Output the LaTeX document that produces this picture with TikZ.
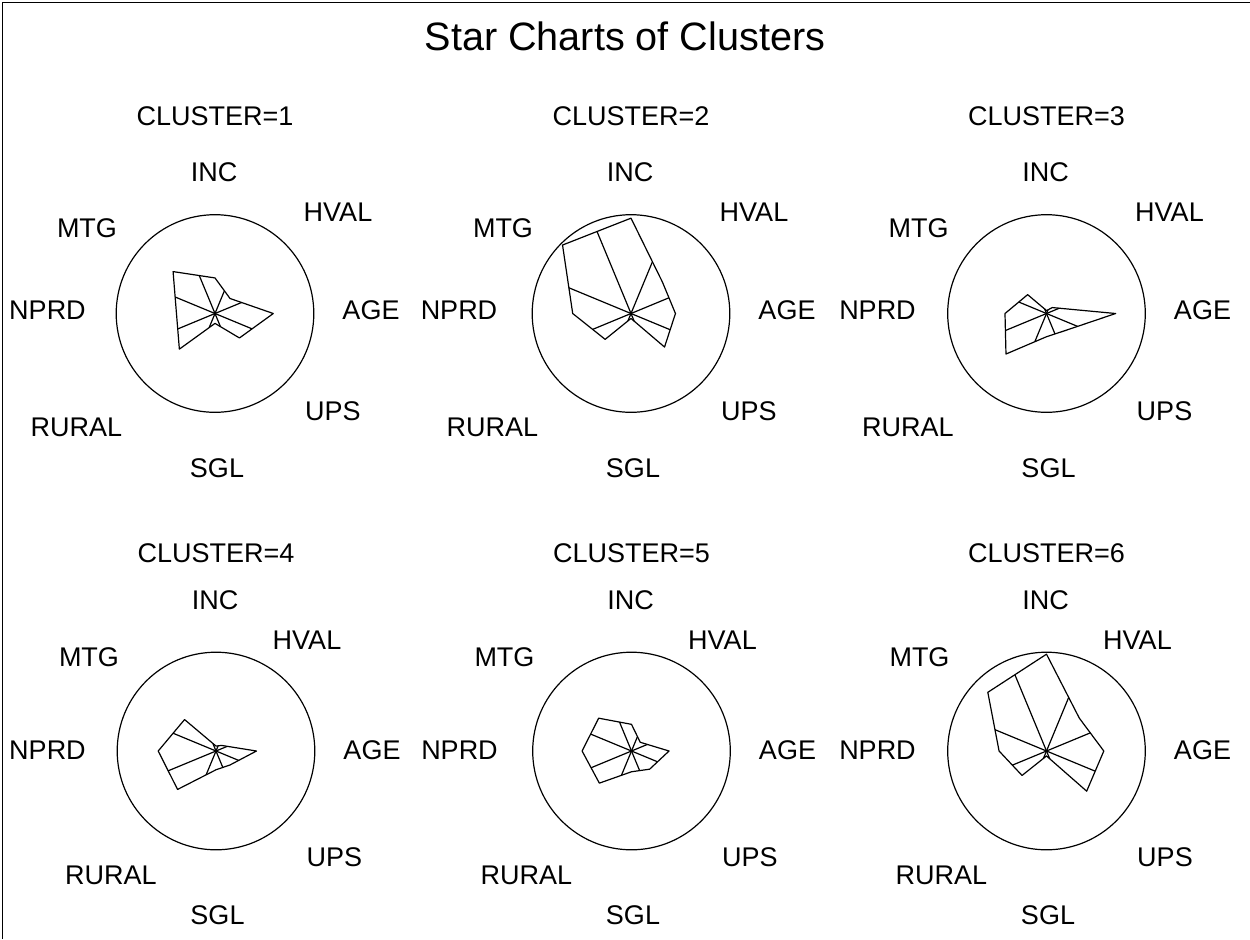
\documentclass[tikz,border=0pt]{standalone}
\usepackage{fontspec}
\setmainfont{Liberation Sans}
\usetikzlibrary{calc}
\tikzset{
  lbl/.style={inner sep=0pt, font=\fontsize{13.5}{16}\selectfont},
  ttl/.style={inner sep=0pt, font=\fontsize{19.8}{23}\selectfont},
  starline/.style={line width=0.6pt, line join=round},
  framel/.style={line width=0.8pt}
}
\newcommand\starchart[2]{%
  \draw[starline] (#1) circle[radius=98.8];
  \foreach \val [count=\i from 0] in {#2} {
    \coordinate (#1-p\i) at ($(#1)+({45*\i-90}:{\val*98.8})$);
  }
  \draw[starline] (#1-p0) -- (#1-p1) -- (#1-p2) -- (#1-p3) -- (#1-p4) -- (#1-p5) -- (#1-p6) -- (#1-p7) -- cycle;
  \foreach \i in {0,...,7} {
    \pgfmathtruncatemacro\jj{mod(\i+1,8)}
    \pgfmathsetmacro\ra{{#2}[\i]}
    \pgfmathsetmacro\rb{{#2}[\jj]}
    \pgfmathsetmacro\fr{\ra/(\ra+\rb)}
    \draw[starline] (#1) -- ($(#1-p\i)!\fr!(#1-p\jj)$);
  }
}
\begin{document}
\begin{tikzpicture}[x=0.5pt,y=-0.5pt]
\useasboundingbox (0,0) rectangle (1250,939);
\draw[framel] (2.5,939) -- (2.5,2.5) -- (1250,2.5);
\node[ttl] (title) at (625,36) {Star Charts of Clusters};

\coordinate (c1) at (215,313.5);
\coordinate (c2) at (631,313.5);
\coordinate (c3) at (1046.5,313.5);
\coordinate (c4) at (216,751);
\coordinate (c5) at (631.5,751);
\coordinate (c6) at (1046.5,751);

\starchart{c1}{0.36,0.215,0.59,0.35,0.10,0.51,0.39,0.60}
\starchart{c2}{0.965,0.45,0.45,0.48,0.05,0.37,0.59,0.98}
\starchart{c3}{0.03,0.085,0.70,0.25,0.235,0.58,0.42,0.27}
\starchart{c4}{0.05,0.08,0.41,0.20,0.19,0.55,0.585,0.45}
\starchart{c5}{0.27,0.125,0.38,0.26,0.21,0.46,0.50,0.47}
\starchart{c6}{0.98,0.47,0.58,0.575,0.05,0.35,0.48,0.84}

\foreach \c/\n/\nx in {c1/1/-167.5,c2/2/-172,c3/3/-169} {
  \node[lbl] (\c-cl) at ($(\c)+(0,-197.5)$) {CLUSTER=\n};
  \node[lbl] (\c-inc) at ($(\c)+(-1,-141.5)$) {INC};
  \node[lbl] (\c-hval) at ($(\c)+(123,-101.5)$) {HVAL};
  \node[lbl] (\c-mtg) at ($(\c)+(-128,-85.5)$) {MTG};
  \node[lbl] (\c-nprd) at ($(\c)+(\nx,-3.5)$) {NPRD};
  \node[lbl] (\c-age) at ($(\c)+(156,-3.5)$) {AGE};
  \node[lbl] (\c-ups) at ($(\c)+(118,97.5)$) {UPS};
  \node[lbl] (\c-rural) at ($(\c)+(-138.5,113.5)$) {RURAL};
  \node[lbl] (\c-sgl) at ($(\c)+(2,154.5)$) {SGL};
}
\foreach \c/\n/\nx in {c4/4/-168.5,c5/5/-172,c6/6/-169} {
  \node[lbl] (\c-cl) at ($(\c)+(0,-198)$) {CLUSTER=\n};
  \node[lbl] (\c-inc) at ($(\c)+(-1,-151)$) {INC};
  \node[lbl] (\c-hval) at ($(\c)+(91,-111)$) {HVAL};
  \node[lbl] (\c-mtg) at ($(\c)+(-127,-94)$) {MTG};
  \node[lbl] (\c-nprd) at ($(\c)+(\nx,-1)$) {NPRD};
  \node[lbl] (\c-age) at ($(\c)+(156,-1)$) {AGE};
  \node[lbl] (\c-ups) at ($(\c)+(118.5,106)$) {UPS};
  \node[lbl] (\c-rural) at ($(\c)+(-105,124)$) {RURAL};
  \node[lbl] (\c-sgl) at ($(\c)+(1.5,164)$) {SGL};
}
\end{tikzpicture}
\end{document}
